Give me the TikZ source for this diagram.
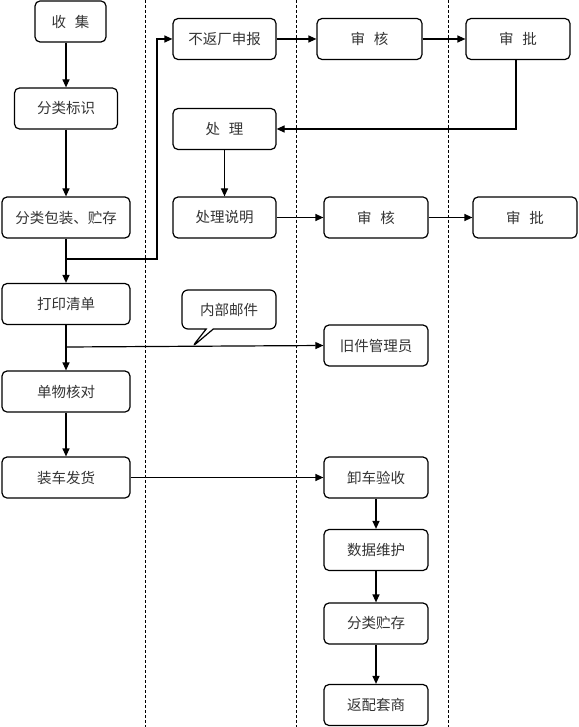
\documentclass[tikz,border=0pt]{standalone}
\usepackage{fontspec}
\newfontfamily\cjk{Noto Sans CJK SC}
\usetikzlibrary{arrows.meta,shapes.callouts}

\tikzset{
  box/.style={draw, rounded corners=5pt, line width=1.2pt, minimum width=103pt,
    minimum height=41pt, inner sep=0pt, text=black!80, font=\cjk\fontsize{14.5}{14.5}\selectfont},
  arr/.style={line width=1.2pt, -{Triangle[length=8pt,width=7pt]}},
  lane/.style={line width=0.7pt, dash pattern=on 3pt off 2pt}
}
\newcommand{\gap}{\hspace{0.6em}}

\begin{document}
\begin{tikzpicture}[x=1pt, y=-1pt]
			\useasboundingbox (0,0) rectangle (578,727);
			
			% swim lanes
			\coordinate (top1) at (145,0);
			\coordinate (bot1) at (145,727);
			\coordinate (top2) at (296,0);
			\coordinate (bot2) at (296,727);
			\coordinate (top3) at (448,0);
			\coordinate (bot3) at (448,727);
			\draw[lane] (top1) -- (bot1);
			\draw[lane] (top2) -- (bot2);
			\draw[lane] (top3) -- (bot3);
			
			% left column
			\node[box, minimum width=71pt] (shouji) at (70.5,21.5) {收\gap 集};
			\node[box] (biaoshi) at (66,108.5) {分类标识};
			\node[box, minimum width=128pt] (baozhuang) at (66,217.5) {分类包装、贮存};
			\node[box, minimum width=128pt] (dayin) at (66,304) {打印清单};
			\node[box, minimum width=128pt] (hedui) at (66,391.5) {单物核对};
			\node[box, minimum width=128pt] (fahuo) at (66,477.5) {装车发货};
			
			% second column
			\node[box] (bufan) at (224.5,39) {不返厂申报};
			\node[box] (chuli) at (224.5,129) {处\gap 理};
			\node[box] (shuoming) at (224.5,217.5) {处理说明};
			\node[rectangle callout, draw, rounded corners=6pt, line width=1.2pt,
				minimum width=94pt, minimum height=39pt, text=black!80,
				font=\cjk\fontsize{14.5}{14.5}\selectfont,
				callout absolute pointer={(192,347)}] (youjian) at (229,309.5) {内部邮件};
			
			% third column
			\node[box, minimum width=105pt] (shenhe) at (369.5,39) {审\gap 核};
			\node[box, minimum width=104pt] (chuli2) at (376,217.5) {审\gap 核};
			\node[box, minimum width=104pt] (jiujian) at (376,345.5) {旧件管理员};
			\node[box, minimum width=104pt] (xieche) at (376,477.5) {卸车验收};
			\node[box, minimum width=104pt] (shuju) at (376,550) {数据维护};
			\node[box, minimum width=104pt] (zhucun) at (376,623.5) {分类贮存};
			\node[box, minimum width=104pt] (fanpei) at (376,705) {返配套商};
			
			% fourth column
			\node[box, minimum width=104pt] (shenpi) at (518,39) {审\gap 批};
			\node[box, minimum width=104pt] (shenpi2) at (525,217.5) {审\gap 批};
			
			% junctions
			\coordinate (j1) at (66,259);
			\coordinate (j1r) at (157,259);
			\coordinate (j2) at (66,347);
			
			% left flow
			\draw[arr] (shouji.south -| biaoshi) -- (biaoshi);
			\draw[arr] (biaoshi) -- (baozhuang);
			\draw[line width=1.2pt] (baozhuang) -- (j1);
			\draw[arr] (j1) -- (dayin);
			\draw[line width=1.2pt] (dayin) -- (j2);
			\draw[arr] (j2) -- (hedui);
			\draw[arr] (hedui) -- (fahuo);
			
			% branches
			\draw[arr] (j1) -- (j1r) |- (bufan.west);
			\draw[arr] (j2) -- (jiujian.west);
			\draw[arr] (fahuo) -- (xieche);
			
			% approval rows
			\draw[arr] (bufan) -- (shenhe);
			\draw[arr] (shenhe) -- (shenpi);
			\draw[arr] ([xshift=-2pt]shenpi.south) |- (chuli.east);
			\draw[arr] (chuli) -- (shuoming);
			\draw[arr] (shuoming) -- (chuli2);
			\draw[arr] (chuli2) -- (shenpi2);
			
			% receiving side
			\draw[arr] (xieche) -- (shuju);
			\draw[arr] (shuju) -- (zhucun);
			\draw[arr] (zhucun) -- (fanpei);
		\end{tikzpicture}
\end{document}
